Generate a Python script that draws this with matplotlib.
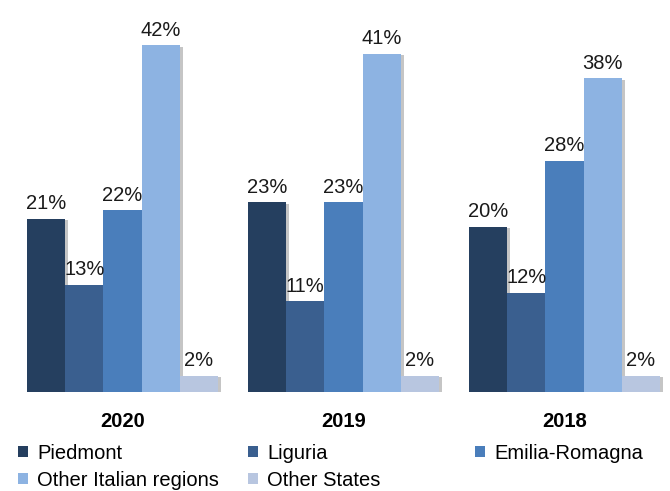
import matplotlib.pyplot as plt
import matplotlib.patheffects as pe
from matplotlib.patches import Patch
import numpy as np

plt.rcParams['font.family'] = ['Liberation Sans Narrow', 'Liberation Sans', 'DejaVu Sans']

years = ['2020', '2019', '2018']
series = ['Piedmont', 'Liguria', 'Emilia-Romagna', 'Other Italian regions', 'Other States']
values = {
    'Piedmont': [21, 23, 20],
    'Liguria': [13, 11, 12],
    'Emilia-Romagna': [22, 23, 28],
    'Other Italian regions': [42, 41, 38],
    'Other States': [2, 2, 2],
}
colors = ['#253F5F', '#3A5F8F', '#4A7EBB', '#8DB3E2', '#B8C6E0']

fig = plt.figure(figsize=(6.7, 4.91), dpi=100)
ax = fig.add_axes([0, 0.2016, 1, 0.7984])

x = np.arange(len(years))
w = 0.173
shadow = [pe.SimplePatchShadow(offset=(2, -1), shadow_rgbFace='#808080', alpha=0.45), pe.Normal()]

for i, (name, c) in enumerate(zip(series, colors)):
    pos = x + (i - 2) * w
    ax.bar(pos, values[name], width=w, color=c, linewidth=0, path_effects=shadow)
    for px, v in zip(pos, values[name]):
        ax.annotate(f'{v}%', (px, v), xytext=(0, 4), textcoords='offset points',
                    ha='center', va='bottom', fontsize=14.5, color='#1a1a1a')

ax.set_xlim(-0.554, 2.477)
ax.set_ylim(0, 47.5)
ax.axis('off')

for xi, yr in zip(x, years):
    ax.text(xi, -2.4, yr, ha='center', va='top', fontsize=14.5, fontweight='bold')

# legend laid out in three columns, row-major order (plain swatches, no shadow)
swatches = [Patch(facecolor=c, linewidth=0) for c in colors]
cols = [[0, 3], [1, 4], [2]]
col_x = [0.027, 0.370, 0.709]
for cx, idx in zip(col_x, cols):
    fig.legend([swatches[k] for k in idx], [series[k] for k in idx],
               loc='upper left', bbox_to_anchor=(cx, 0.096), frameon=False,
               fontsize=14.5, handlelength=0.5, handleheight=0.5, handletextpad=0.45,
               labelspacing=0.38, borderaxespad=0, borderpad=0)

fig.savefig('out.png', dpi=100)
